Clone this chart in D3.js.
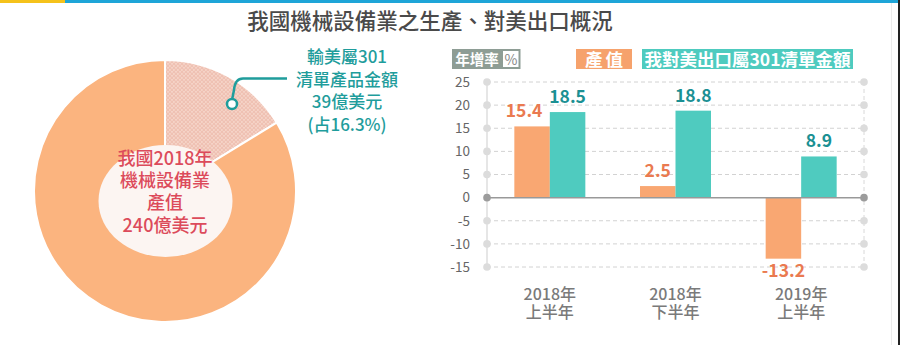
<!DOCTYPE html>
<html><head><meta charset="utf-8">
<script src="https://cdn.jsdelivr.net/npm/d3@7/dist/d3.min.js"></script>
<style>
html,body{margin:0;padding:0;background:#fff;}
svg{display:block;font-family:"Noto Sans CJK TC","Noto Sans",sans-serif;}
</style></head>
<body>
<svg id="c" width="900" height="345"></svg>
<script>
// ---- data ----
const title = "我國機械設備業之生產、對美出口概況";
const donutLabels = ["輸美屬301清單產品", "其他"];
const donutValues = [39, 201];           // 億美元 (total 240)
const centerLines = ["我國2018年", "機械設備業", "產值", "240億美元"];
const annotLines = ["輸美屬301", "清單產品金額", "39億美元", "(占16.3%)"];

const categories = [["2018年", "上半年"], ["2018年", "下半年"], ["2019年", "上半年"]];
const seriesNames = ["產值", "我對美出口屬301清單金額"];
const productionGrowth = [15.4, 2.5, -13.2];
const exportGrowth = [18.5, 18.8, 8.9];
const yTicks = [-15, -10, -5, 0, 5, 10, 15, 20, 25];

// ---- styles ----
const C = {
  orangeBar: "#f9a772", tealBar: "#4fcbbf",
  orangeText: "#ea7a50", tealText: "#1b9093",
  donutOrange: "#fbb47f", hatchBg: "#f6d5c9", hatchDot: "#e8a998",
  cream: "#fcf5f2", centerText: "#dc4b5b", annot: "#1f9d9c",
  axisText: "#666", catText: "#7a7a7a", grid: "#d2d2d2", legendGray: "#8e9d95"
};
const fmtNum = f => v => f(v).replace("\u2212", "-");

const svg = d3.select("#c");
const defs = svg.append("defs");
const pat = defs.append("pattern").attr("id", "hatch").attr("patternUnits", "userSpaceOnUse")
  .attr("width", 4).attr("height", 4);
pat.append("rect").attr("width", 4).attr("height", 4).attr("fill", C.hatchBg);
[[1, 1], [3, 3], [3, 1.2], [1.2, 3]].forEach((p, i) =>
  pat.append("circle").attr("cx", p[0]).attr("cy", p[1]).attr("r", i < 2 ? 0.8 : 0.5)
    .attr("fill", i < 2 ? C.hatchDot : "#eebcad"));

// top bars
svg.append("rect").attr("x", 0).attr("y", 0).attr("width", 65).attr("height", 3).attr("fill", "#f5c21b");
svg.append("rect").attr("x", 65).attr("y", 0).attr("width", 833).attr("height", 3).attr("fill", "#1ea5d8");
svg.append("line").attr("x1", 891.5).attr("x2", 891.5).attr("y1", 3).attr("y2", 345).attr("stroke", "#ececec");
svg.append("rect").attr("x", 898).attr("y", 0).attr("width", 2).attr("height", 345).attr("fill", "#222");

// title
svg.append("text").attr("x", 430).attr("y", 29).attr("text-anchor", "middle")
  .attr("font-size", 21.5).attr("font-weight", 500).attr("fill", "#4a4a4a").text(title);

// ---- donut ----
const cx = 165, cy = 191, R = 131;
const pie = d3.pie().sort(null).value(d => d)(donutValues);
const arc = d3.arc().innerRadius(0).outerRadius(R);
const dg = svg.append("g").attr("transform", `translate(${cx},${cy})`);
dg.selectAll("path").data(pie).join("path")
  .attr("d", arc)
  .attr("fill", (d, i) => i === 0 ? "url(#hatch)" : C.donutOrange)
  .attr("stroke", "#fff").attr("stroke-width", 2);
dg.append("ellipse").attr("cx", 0.5).attr("cy", 10).attr("rx", 67).attr("ry", 56).attr("fill", C.cream);
dg.selectAll("text.ct").data(centerLines).join("text").attr("class", "ct")
  .attr("x", 0).attr("y", (d, i) => -33 + i * 22.4 + 6.5)
  .attr("text-anchor", "middle").attr("font-size", 18).attr("font-weight", 500)
  .attr("fill", C.centerText).text(d => d);

// annotation
svg.append("path").attr("d", "M287,78.5 L243,78.5 Q235,78.5 234,90 L232,100")
  .attr("fill", "none").attr("stroke", C.annot).attr("stroke-width", 2.5);
svg.append("circle").attr("cx", 232).attr("cy", 104).attr("r", 5)
  .attr("fill", "#fff").attr("stroke", C.annot).attr("stroke-width", 2.5);
svg.selectAll("text.an").data(annotLines).join("text").attr("class", "an")
  .attr("x", 347).attr("y", (d, i) => 63 + i * 22.5)
  .attr("text-anchor", "middle").attr("font-size", 17).attr("font-weight", 500)
  .attr("fill", C.annot).text(d => d);

// ---- bar chart ----
const x0 = d3.scaleBand().domain(d3.range(categories.length)).range([487, 864]).padding(0);
const x1 = d3.scaleBand().domain([0, 1])
  .range([x0.bandwidth() * 0.2175, x0.bandwidth() * 0.7825]).padding(0);
const y = d3.scaleLinear().domain([-15, 25]).range([267, 82]);

const gg = svg.append("g");
gg.append("line").attr("x1", 487).attr("x2", 487).attr("y1", y(25)).attr("y2", y(-15))
  .attr("stroke", "#dedede").attr("stroke-width", 1.5);
gg.append("line").attr("x1", 864).attr("x2", 864).attr("y1", y(25)).attr("y2", y(-15))
  .attr("stroke", "#d8d8d8").attr("stroke-dasharray", "4,3");
gg.selectAll("line.grid").data(yTicks.filter(t => t !== 0)).join("line").attr("class", "grid")
  .attr("x1", 487).attr("x2", 864).attr("y1", d => y(d)).attr("y2", d => y(d))
  .attr("stroke", C.grid).attr("stroke-dasharray", "4,3");
const yAxis = d3.axisLeft(y).tickValues(yTicks).tickSize(0).tickPadding(0).tickFormat(fmtNum(d3.format("d")));
const ya = svg.append("g").attr("transform", "translate(470,0)").call(yAxis);
ya.select(".domain").remove();
ya.selectAll("text").attr("font-size", 13.5).attr("fill", C.axisText)
  .attr("font-family", '"Noto Sans CJK TC",sans-serif');

// bars
const rows = categories.map((c, i) => ({i, vals: [productionGrowth[i], exportGrowth[i]]}));
const lblY = v => v >= 0 ? y(v) - 9 : y(v) + 18;
const groups = svg.append("g").selectAll("g").data(rows).join("g")
  .attr("transform", d => `translate(${x0(d.i)},0)`);
groups.selectAll("rect").data(d => d.vals.map((v, k) => ({v, k}))).join("rect")
  .attr("x", d => x1(d.k)).attr("width", x1.bandwidth())
  .attr("y", d => y(Math.max(0, d.v))).attr("height", d => Math.abs(y(d.v) - y(0)))
  .attr("fill", d => d.k === 0 ? C.orangeBar : C.tealBar);
groups.selectAll("text").data(d => d.vals.map((v, k) => ({v, k, other: d.vals[1 - k]}))).join("text")
  .attr("x", d => x1(d.k) + x1.bandwidth() / 2 +
    (d.k === 0 && Math.abs(lblY(d.v) - lblY(d.other)) < 20 ? -8 : 0))
  .attr("y", d => lblY(d.v))
  .attr("text-anchor", "middle").attr("font-size", 17.5).attr("font-weight", 700)
  .attr("fill", d => d.k === 0 ? C.orangeText : C.tealText)
  .text(d => fmtNum(d3.format(".1f"))(d.v));

// zero line + dots
svg.append("line").attr("x1", 487).attr("x2", 864).attr("y1", y(0)).attr("y2", y(0))
  .attr("stroke", "#999").attr("stroke-width", 1.5);
svg.selectAll("circle.dot").data(yTicks.flatMap(t => [[487, t], [864, t]])).join("circle").attr("class", "dot")
  .attr("cx", d => d[0]).attr("cy", d => y(d[1])).attr("r", 3.8)
  .attr("fill", d => d[1] === 0 ? "#9c9c9c" : "#dcdcdc");

// category labels (one text per line)
const catLines = categories.flatMap((c, i) => c.map((s, j) => ({s, i, j})));
svg.append("g").selectAll("text").data(catLines).join("text")
  .attr("x", d => x0(d.i) + x0.bandwidth() / 2)
  .attr("y", d => 300 + d.j * 18)
  .attr("text-anchor", "middle").attr("font-size", 16).attr("font-weight", 500)
  .attr("fill", C.catText).text(d => d.s);

// legend
const lg = svg.append("g");
lg.append("rect").attr("x", 452).attr("y", 49).attr("width", 50).attr("height", 20).attr("fill", C.legendGray);
lg.append("text").attr("x", 477).attr("y", 64.5).attr("text-anchor", "middle").attr("font-size", 14.5)
  .attr("font-weight", 700).attr("fill", "#fff").text("年增率");
lg.append("rect").attr("x", 502).attr("y", 50).attr("width", 17.5).attr("height", 18)
  .attr("fill", "#fff").attr("stroke", C.legendGray).attr("stroke-width", 2);
lg.append("text").attr("x", 511).attr("y", 64.5).attr("text-anchor", "middle").attr("font-size", 14)
  .attr("fill", "#888").text("%");
const legItems = [
  {name: seriesNames[0], x: 576, w: 56, fill: "#f6a26c", ls: 3},
  {name: seriesNames[1], x: 642, w: 211, fill: "#4ecbbf", ls: 0}
];
legItems.forEach(it => {
  lg.append("rect").attr("x", it.x).attr("y", 49).attr("width", it.w).attr("height", 20).attr("fill", it.fill);
  lg.append("text").attr("x", it.x + it.w / 2 + it.ls / 2).attr("y", 65.5).attr("text-anchor", "middle")
    .attr("font-size", 17.5).attr("font-weight", 700).attr("letter-spacing", it.ls)
    .attr("fill", "#fff").text(it.name);
});
</script>
</body></html>
